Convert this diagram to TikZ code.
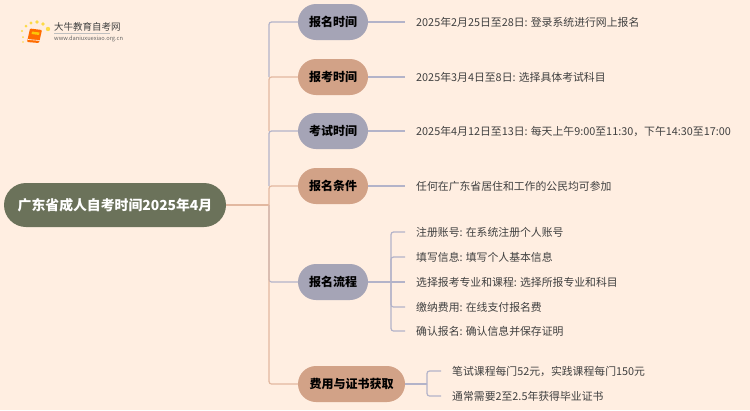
\documentclass[tikz,border=0pt]{standalone}
\usepackage{fontspec}
\setmainfont{Noto Sans CJK SC}
\definecolor{paper}{HTML}{FFEEE1}
\definecolor{rootfill}{HTML}{6B725A}
\definecolor{grayfill}{HTML}{A5A4B6}
\definecolor{tanfill}{HTML}{D2A287}
\definecolor{grayline}{HTML}{B3B3C9}
\definecolor{tanline}{HTML}{E2B8A0}
\definecolor{inktext}{HTML}{404040}
\tikzset{
  rootnode/.style={shape=rectangle,rounded corners=22pt,fill=rootfill,text=white,minimum width=222pt,minimum height=44pt,inner sep=0pt,font=\fontsize{13.85pt}{16pt}\selectfont\bfseries},
  branch/.style={shape=rectangle,rounded corners=18pt,minimum height=36pt,minimum width=70pt,inner sep=0pt,text=black,font=\fontsize{12pt}{15pt}\selectfont\bfseries},
  leaf/.style={anchor=west,inner sep=0pt,text=inktext,font=\fontsize{10.85pt}{13pt}\selectfont},
  grayedge/.style={draw=grayline,line width=1.2pt,rounded corners=2.5pt},
  tanedge/.style={draw=tanline,line width=1.2pt,rounded corners=2.5pt}
}
\begin{document}
\begin{tikzpicture}[x=1pt,y=-1pt]
\useasboundingbox[fill=paper] (0,0) rectangle (750,410);
% logo
\foreach \x/\y/\r in {23/42/.8,23/37/1,22/31/1.2,26/26/1.5,31/23/1.7,37/22/1.8,43/24/1.9,48/29/2.2}
  \fill[yellow!70!orange,opacity=.7] (\x,\y) circle (\r);
\fill[orange!85!red,rounded corners=1pt] (30,28.5) -- (42,30) -- (39,43) -- (27,42) -- cycle;
\fill[yellow!60!orange] (32,31.5) -- (39.5,32.5) -- (39,35) -- (31.5,34) -- cycle;
\draw[white,line width=.6pt] (28,39.5) -- (39.5,40.5);
\node[anchor=west,inner sep=0pt,text=black!75,font=\fontsize{9.5pt}{11pt}\selectfont] (sitename) at (54,27) {大牛教育自考网};
\draw[black!25,line width=.4pt] (54,33) -- (110,33);
\node[anchor=west,inner sep=0pt,text=black!60,font=\fontsize{5.7pt}{7pt}\selectfont] (siteurl) at (54,39) {www.daniuxuexiao.org.cn};
% main nodes
\node[rootnode] (root) at (115,205) {广东省成人自考时间2025年4月};
\node[branch,fill=grayfill] (signup) at (333,22) {报名时间};
\node[branch,fill=tanfill] (apply) at (333,77) {报考时间};
\node[branch,fill=grayfill] (exam) at (333,131) {考试时间};
\node[branch,fill=tanfill] (terms) at (333,186) {报名条件};
\node[branch,fill=grayfill] (steps) at (333,282) {报名流程};
\node[branch,fill=tanfill,minimum width=107pt] (fees) at (351.5,384) {费用与证书获取};
% leaves
\node[leaf] (leafa) at (416,22) {2025年2月25日至28日: 登录系统进行网上报名};
\node[leaf] (leafb) at (416,77) {2025年3月4日至8日: 选择具体考试科目};
\node[leaf] (leafc) at (416,131) {2025年4月12日至13日: 每天上午9:00至11:30，下午14:30至17:00};
\node[leaf] (leafd) at (416,186) {任何在广东省居住和工作的公民均可参加};
\node[leaf] (stepa) at (416,232) {注册账号: 在系统注册个人账号};
\node[leaf] (stepb) at (416,257) {填写信息: 填写个人基本信息};
\node[leaf] (stepc) at (416,282) {选择报考专业和课程: 选择所报专业和科目};
\node[leaf] (stepd) at (416,307) {缴纳费用: 在线支付报名费};
\node[leaf] (stepe) at (416,331) {确认报名: 确认信息并保存证明};
\node[leaf] (feea) at (452,371) {笔试课程每门52元，实践课程每门150元};
\node[leaf] (feeb) at (452,396) {通常需要2至2.5年获得毕业证书};
% connectors
\coordinate (hub) at (269,205);
\draw[grayedge] (hub) |- (steps.west);
\draw[tanedge] (root.east) -- (hub);
\draw[tanedge] (hub) -- (269,186) -- (terms.west);
\draw[grayedge] (269,186) -- (269,131) -- (exam.west);
\draw[tanedge] (269,131) -- (269,77) -- (apply.west);
\draw[grayedge] (269,77) -- (269,22) -- (signup.west);
\draw[tanedge] (hub) |- (fees.west);
\foreach \from/\y in {signup/22,apply/77,exam/131,terms/186,steps/282}
  \draw[grayedge] (\from.east) -- (405,\y);
\coordinate (stepsjoint) at (391,282);
\foreach \y in {232,257,307,331}
  \draw[grayedge] (stepsjoint) |- (405,\y);
\coordinate (feesjoint) at (427,384);
\draw[grayedge] (fees.east) -- (feesjoint);
\foreach \y in {371,396}
  \draw[grayedge] (feesjoint) |- (441,\y);
\end{tikzpicture}
\end{document}
